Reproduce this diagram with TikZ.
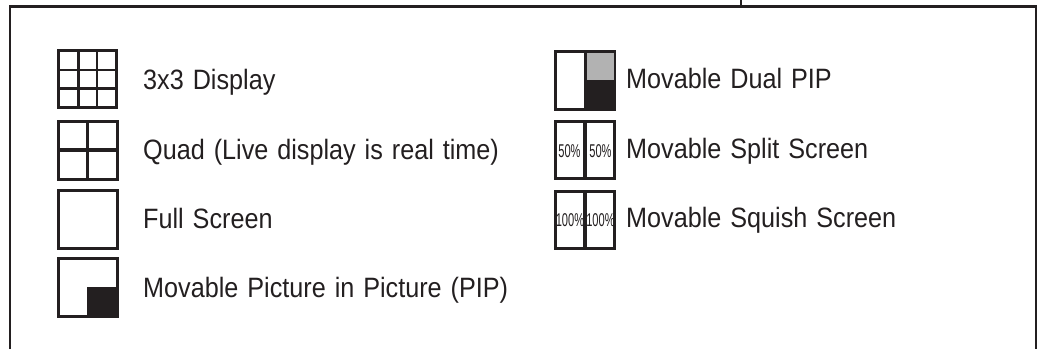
\documentclass[tikz,border=0pt]{standalone}
\usepackage{fontspec}
\setmainfont[FakeStretch=0.9,WordSpace=1.28]{Liberation Sans}
\newfontfamily\tinyface[FakeStretch=0.6]{Liberation Sans}
\usetikzlibrary{calc}
\definecolor{inkblack}{RGB}{35,31,32}
\definecolor{pipgray}{RGB}{178,178,178}
\tikzset{
  iconbox/.style={draw=inkblack,line width=2.6bp,fill=white,minimum width=58bp,minimum height=57bp,inner sep=0pt,outer sep=0pt},
  iconline/.style={draw=inkblack,line width=2.6bp},
  labeltext/.style={anchor=base west,inner sep=0pt,text=inkblack,font=\fontsize{28bp}{32bp}\selectfont},
  percenttext/.style={inner sep=0pt,text=inkblack,font=\tinyface\fontsize{18.5bp}{20bp}\selectfont},
}
\begin{document}
\begin{tikzpicture}[x=1bp,y=-1bp,line join=miter]
\useasboundingbox (0,0) rectangle (1044,349);
%% frame
\coordinate (frame_sw) at (10,349);
\coordinate (frame_nw) at (10,6.5);
\coordinate (frame_ne) at (1036,6.5);
\coordinate (frame_se) at (1036,349);
\coordinate (tick_top) at (741,0);
\coordinate (tick_end) at (741,6.5);
\draw [inkblack,line width=2.7bp] (frame_sw) -- (frame_nw) -- (frame_ne) -- (frame_se);
\draw [inkblack,line width=1.8bp] (tick_top) -- (tick_end);
%% left column
\node (icon_grid) at (87.5,79) [iconbox] {};
\node (icon_quad) at (87.5,150) [iconbox,minimum width=59bp,minimum height=58bp,line width=3bp] {};
\node (icon_full) at (88,219.5) [iconbox,minimum width=59bp,minimum height=58bp,line width=3bp] {};
\node (icon_pip) at (88,287.5) [iconbox,minimum width=59bp,minimum height=58bp,line width=3bp] {};
\node (pip_black) at (102.5,302) [fill=inkblack,minimum width=31bp,minimum height=30bp,inner sep=0pt] {};
\draw [iconline] ($(icon_grid.north west)!0.345!(icon_grid.north east)$) -- ($(icon_grid.south west)!0.345!(icon_grid.south east)$);
\draw [iconline] ($(icon_grid.north west)!0.665!(icon_grid.north east)$) -- ($(icon_grid.south west)!0.665!(icon_grid.south east)$);
\draw [iconline] ($(icon_grid.north west)!0.345!(icon_grid.south west)$) -- ($(icon_grid.north east)!0.345!(icon_grid.south east)$);
\draw [iconline] ($(icon_grid.north west)!0.665!(icon_grid.south west)$) -- ($(icon_grid.north east)!0.665!(icon_grid.south east)$);
\draw [iconline,line width=3.1bp] (icon_quad.north) -- (icon_quad.south);
\draw [iconline,line width=3.1bp] (icon_quad.west) -- (icon_quad.east);
\node (label_grid) at (143,89) [labeltext] {3x3 Display};
\node (label_quad) at (143,159) [labeltext] {Quad (Live display is real time)};
\node (label_full) at (143,228) [labeltext] {Full Screen};
\node (label_pip) at (143,297.5) [labeltext] {Movable Picture in Picture (PIP)};
%% right column
\node (icon_dual) at (585,80.5) [iconbox,minimum width=59bp,minimum height=58bp,line width=3bp] {};
\node (dual_gray) at (600,66) [fill=pipgray,minimum width=27bp,minimum height=27bp,inner sep=0pt] {};
\node (dual_black) at (600,95) [fill=inkblack,minimum width=30bp,minimum height=30bp,inner sep=0pt] {};
\draw [inkblack,line width=3bp] (icon_dual.north) -- (icon_dual.south);
\node (icon_split) at (585,150) [iconbox,minimum width=59bp] {};
\node (icon_squish) at (585,220) [iconbox,minimum width=59bp] {};
\draw [inkblack,line width=3.1bp] (icon_split.north) -- (icon_split.south);
\draw [inkblack,line width=3.1bp] (icon_squish.north) -- (icon_squish.south);
\node (split_a) at (569.5,151) [percenttext] {50\%};
\node (split_b) at (600.5,151) [percenttext] {50\%};
\node (squish_a) at (570,220) [percenttext] {100\%};
\node (squish_b) at (600.5,220) [percenttext] {100\%};
\node (label_dual) at (626,88) [labeltext] {Movable Dual PIP};
\node (label_split) at (626,158) [labeltext] {Movable Split Screen};
\node (label_squish) at (626,227) [labeltext] {Movable Squish Screen};
%
\end{tikzpicture}
\end{document}
